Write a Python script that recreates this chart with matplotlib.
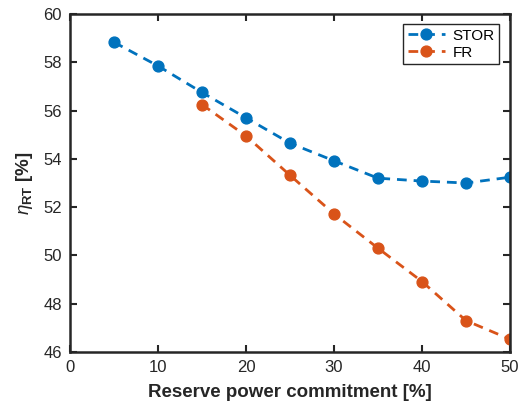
import matplotlib
matplotlib.use("Agg")
import matplotlib.pyplot as plt

plt.rcParams['font.family'] = ['Liberation Sans', 'DejaVu Sans']
plt.rcParams['mathtext.fontset'] = 'custom'
plt.rcParams['mathtext.rm'] = 'Liberation Sans'
plt.rcParams['mathtext.it'] = 'Liberation Sans:italic'
plt.rcParams['mathtext.bf'] = 'Liberation Sans:bold'

stor_x = [5, 10, 15, 20, 25, 30, 35, 40, 45, 50]
stor_y = [58.83, 57.85, 56.75, 55.7, 54.65, 53.92, 53.2, 53.08, 53.0, 53.24]
fr_x = [15, 20, 25, 30, 35, 40, 45, 50]
fr_y = [56.25, 54.95, 53.32, 51.72, 50.3, 48.92, 47.3, 46.53]
xticks = [0, 10, 20, 30, 40, 50]
yticks = [46, 48, 50, 52, 54, 56, 58, 60]

fig = plt.figure(figsize=(5.22, 4.07), dpi=100)
ax = fig.add_axes([70/522, 1-352/407, 440/522, 338/407])

ax.plot(stor_x, stor_y, '--o', color='#0072BD', lw=2, ms=7.8, label='STOR', dashes=(3.5, 2.5))
ax.plot(fr_x, fr_y, '--o', color='#D95319', lw=2, ms=7.8, label='FR', dashes=(3.5, 2.5))

ax.set_xlim(0, 50)
ax.set_ylim(46, 60)
ax.set_xticks(xticks)
ax.set_yticks(yticks)
ax.tick_params(direction='in', length=5, width=1.5, labelsize=12, top=True, right=True, colors='#262626', pad=6)
for s in ax.spines.values():
    s.set_linewidth(1.8)
    s.set_color('#262626')

ax.set_xlabel('Reserve power commitment [%]', fontsize=13.5, fontweight='bold', color='#262626', labelpad=6)
ax.set_ylabel(r'$\eta_{\mathbf{RT}}$ [%]', fontsize=13.5, fontweight='bold', color='#262626', labelpad=6)

leg = ax.legend(loc='upper right', bbox_to_anchor=(499/522, 1-24/407), bbox_transform=fig.transFigure,
                fontsize=11, fancybox=False, framealpha=1, edgecolor='#262626',
                borderpad=0.3, handlelength=2.4, handletextpad=0.5, labelspacing=0.2, borderaxespad=0)
leg.get_frame().set_linewidth(1.0)

fig.savefig('out.png', dpi=100)
